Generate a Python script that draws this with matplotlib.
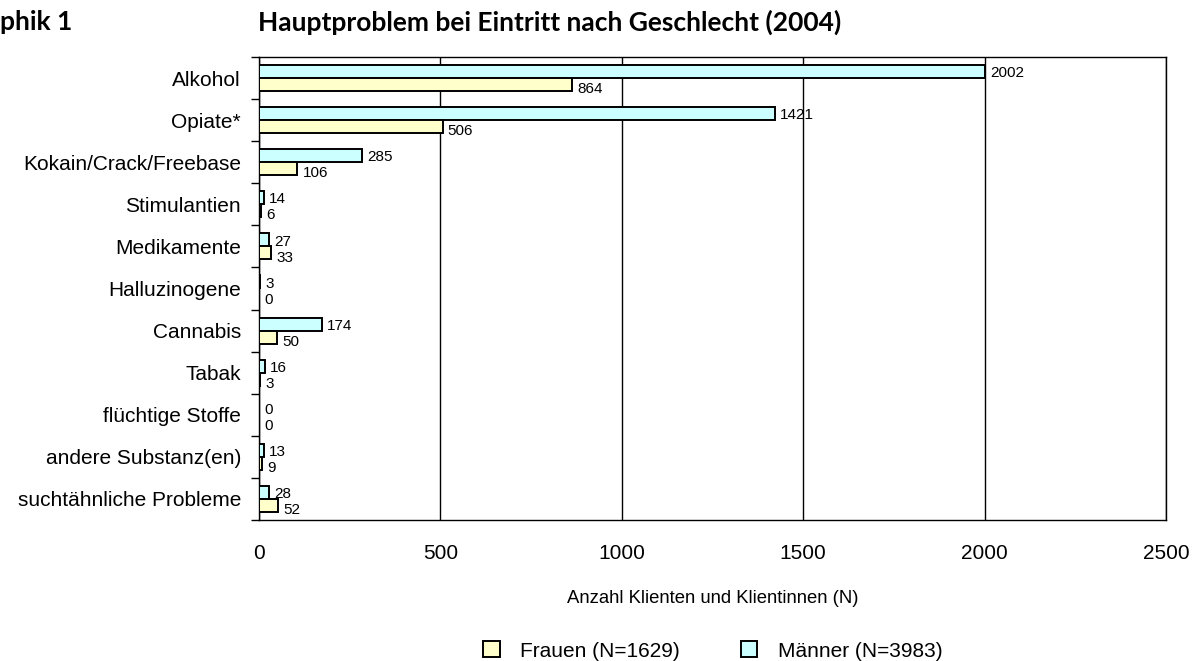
import matplotlib.pyplot as plt
from matplotlib.patches import Patch
import numpy as np

kategorien = ["Alkohol", "Opiate*", "Kokain/Crack/Freebase", "Stimulantien",
              "Medikamente", "Halluzinogene", "Cannabis", "Tabak",
              "flüchtige Stoffe", "andere Substanz(en)", "suchtähnliche Probleme"]
maenner = [2002, 1421, 285, 14, 27, 3, 174, 16, 0, 13, 28]
frauen = [864, 506, 106, 6, 33, 0, 50, 3, 0, 9, 52]

col_m = "#CCFFFF"
col_f = "#FFFFCC"

plt.rcParams['font.family'] = ['Liberation Sans', 'DejaVu Sans']

fig = plt.figure(figsize=(12.04, 6.61), dpi=100)
ax = fig.add_axes([0.2151, 0.2133, 0.7533, 0.7005])

y = np.arange(len(kategorien))
h = 0.31
ax.barh(y - h/2, maenner, height=h, color=col_m, edgecolor="black", linewidth=1.4, zorder=3)
ax.barh(y + h/2, frauen, height=h, color=col_f, edgecolor="black", linewidth=1.4, zorder=3)

# value labels right of the bars
for i in range(len(kategorien)):
    ax.text(maenner[i] + 14, y[i] - h/2 + 0.04, str(maenner[i]), va="center", ha="left", fontsize=11)
    ax.text(frauen[i] + 14, y[i] + h/2 + 0.11, str(frauen[i]), va="center", ha="left", fontsize=11)

ax.set_xlim(0, 2500)
ax.set_ylim(len(kategorien) - 0.5, -0.5)
ax.set_xticks([0, 500, 1000, 1500, 2000, 2500])
ax.set_yticks(y)
ax.set_yticklabels(kategorien, fontsize=15)
ax.set_yticks(np.arange(len(kategorien) + 1) - 0.5, minor=True)
ax.tick_params(axis="y", which="major", length=0, pad=13)
ax.tick_params(axis="y", which="minor", length=6, direction="out", width=1)
ax.tick_params(axis="x", length=0, labelsize=15, pad=17)
ax.grid(axis="x", color="black", linewidth=1, zorder=0)
for s in ax.spines.values():
    s.set_linewidth(1)

ax.set_xlabel("Anzahl Klienten und Klientinnen (N)", fontsize=13.3, labelpad=20)

fig.text(0.0, 0.966, "phik 1", fontsize=19, fontweight="bold", family=["Lato", "DejaVu Sans"], va="center")
fig.text(0.2143, 0.966, "Hauptproblem bei Eintritt nach Geschlecht (2004)", fontsize=19,
         fontweight="bold", family=["Lato", "DejaVu Sans"], va="center")

handles = [Patch(facecolor=col_f, edgecolor="black", linewidth=1.4, label="Frauen (N=1629)"),
           Patch(facecolor=col_m, edgecolor="black", linewidth=1.4, label="Männer (N=3983)")]
fig.legend(handles=handles, loc="center", bbox_to_anchor=(0.592, 0.015), ncol=2, frameon=False,
           fontsize=15, handlelength=0.8, handleheight=0.8, handletextpad=1.0, columnspacing=2.9)

fig.savefig("out.png", dpi=100)
